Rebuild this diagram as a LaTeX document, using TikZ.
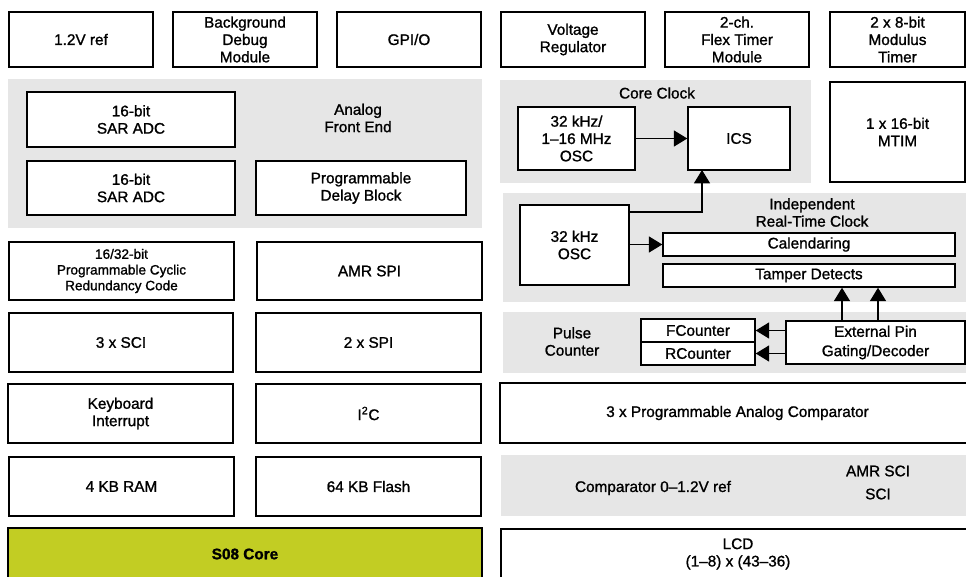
\documentclass[tikz,border=0pt]{standalone}
\usepackage{fontspec}
\setmainfont{Liberation Sans}[RawFeature={embolden=1.2}]
\usetikzlibrary{arrows.meta, fit}

\definecolor{panelgray}{HTML}{E6E6E6}
\definecolor{coregreen}{HTML}{C2CD23}

\begin{document}
\begin{tikzpicture}[
  x=0.75pt, y=-0.75pt,
  >={Triangle[length=10pt, width=12pt]},
  font=\fontsize{11.5}{13}\selectfont,
  blk/.style={draw, line width=1.1pt, fill=white, inner sep=0pt, align=center},
  sz/.style 2 args={minimum width=#1*0.75pt, minimum height=#2*0.75pt},
  panel/.style={fill=panelgray, inner sep=0pt},
  link/.style={->, line width=0.8pt},
  small/.style={font=\fontsize{10.2}{11.8}\selectfont},
  ]

  \useasboundingbox (0,0) rectangle (966,577);

  % Grey panels
  \node[panel, fit={(8,79) (482,228)}] (afe) {};
  \node[panel, fit={(500,80) (811,183)}] (clk) {};
  \node[panel, fit={(503,193) (975,302)}] (rtc) {};
  \node[panel, fit={(503,312) (975,373)}] (pls) {};
  \node[panel, fit={(501,455) (975,516)}] (cmp) {};

  % Panel labels
  \node[align=center] (afetxt) at (358,118) {Analog\\Front End};
  \node (clktxt) at (657,93) {Core Clock};
  \node[align=center] (rtctxt) at (812,212.5) {Independent\\Real-Time Clock};
  \node[align=center] (plstxt) at (572,341.5) {Pulse\\Counter};
  \node (cmptxt) at (653,488) {Comparator 0--1.2V ref};
  \node (amrsci) at (878,471) {AMR SCI};
  \node (sci2) at (878,494) {SCI};

  % Top row
  \node[blk, sz={144}{55}] (vref) at (81,39.5) {1.2V ref};
  \node[blk, sz={144}{55}] (bdm) at (245,39.5) {Background\\Debug\\Module};
  \node[blk, sz={144}{55}] (gpio) at (409,39.5) {GPI/O};
  \node[blk, sz={144}{55}] (vreg) at (573,39.5) {Voltage\\Regulator};
  \node[blk, sz={144}{55}] (ftm) at (737,39.5) {2-ch.\\Flex Timer\\Module};
  \node[blk, sz={135}{55}] (mod) at (897.5,39.5) {2 x 8-bit\\Modulus\\Timer};

  % Analog front end
  \node[blk, sz={208}{55}] (adca) at (131,119.5) {16-bit\\SAR ADC};
  \node[blk, sz={208}{54}] (adcb) at (131,188) {16-bit\\SAR ADC};
  \node[blk, sz={210}{54}] (pdb) at (361,188) {Programmable\\Delay Block};

  % Clocks
  \node[blk, sz={117}{63}] (osc) at (576.5,138.5) {32 kHz/\\1--16 MHz\\OSC};
  \node[blk, sz={102}{63}] (ics) at (739,138.5) {ICS};
  \node[blk, sz={135}{100}] (mtim) at (897.5,132) {1 x 16-bit\\MTIM};
  \node[blk, sz={109}{80}] (rosc) at (574.5,245) {32 kHz\\OSC};
  \node[blk, sz={292}{23}] (cal) at (809,244.5) {Calendaring};
  \node[blk, sz={292}{23}] (tmp) at (809,275.5) {Tamper Detects};

  % Pulse counter
  \node[blk, sz={114}{23}] (fcnt) at (698,330.5) {FCounter};
  \node[blk, sz={114}{23}] (rcnt) at (698,353.5) {RCounter};
  \node[blk, sz={179}{43}, font=\fontsize{11.5}{14.5}\selectfont] (ext) at (875.5,342.5)
    {External Pin\\Gating/Decoder};

  % Left column
  \node[blk, small, sz={225}{58}] (crc) at (121.5,271) {16/32-bit\\Programmable Cyclic\\Redundancy Code};
  \node[blk, sz={225}{58}] (amrspi) at (369.5,271) {AMR SPI};
  \node[blk, sz={224}{59}] (sci) at (121,342.5) {3 x SCI};
  \node[blk, sz={225}{59}] (spi) at (368.5,342.5) {2 x SPI};
  \node[blk, sz={225}{59}] (kbi) at (120.5,413.5) {Keyboard\\Interrupt};
  \node[blk, sz={225}{59}] (iic) at (368.5,413.5) {I\textsuperscript{2}C};
  \node[blk, sz={225}{59}] (ram) at (121.5,486.5) {4 KB RAM};
  \node[blk, sz={225}{59}] (flash) at (368.5,486.5) {64 KB Flash};
  \node[blk, sz={474}{52}, fill=coregreen, font=\fontsize{11.5}{13}\selectfont\bfseries]
    (core) at (245,554) {S08 Core};

  % Right column, lower
  \node[blk, sz={475}{60}] (acmp) at (737.5,413) {3 x Programmable Analog Comparator};
  \node[blk, sz={474}{50}] (lcd) at (738,554) {LCD\\(1--8) x (43--36)};

  % Connections
  \coordinate (icsin) at (702,170);
  \draw[link] (osc.east |- ics.west) -- (ics.west);
  \draw[link] (rosc.east |- 0,212) -| (icsin);
  \draw[link] (rosc.east |- cal.west) -- (cal.west);
  \draw[link] (ext.west |- fcnt.east) -- (fcnt.east);
  \draw[link] (ext.west |- rcnt.east) -- (rcnt.east);
  \draw[link] (ext.north -| 842,0) -- (tmp.south -| 842,0);
  \draw[link] (ext.north -| 878,0) -- (tmp.south -| 878,0);

\end{tikzpicture}
\end{document}
